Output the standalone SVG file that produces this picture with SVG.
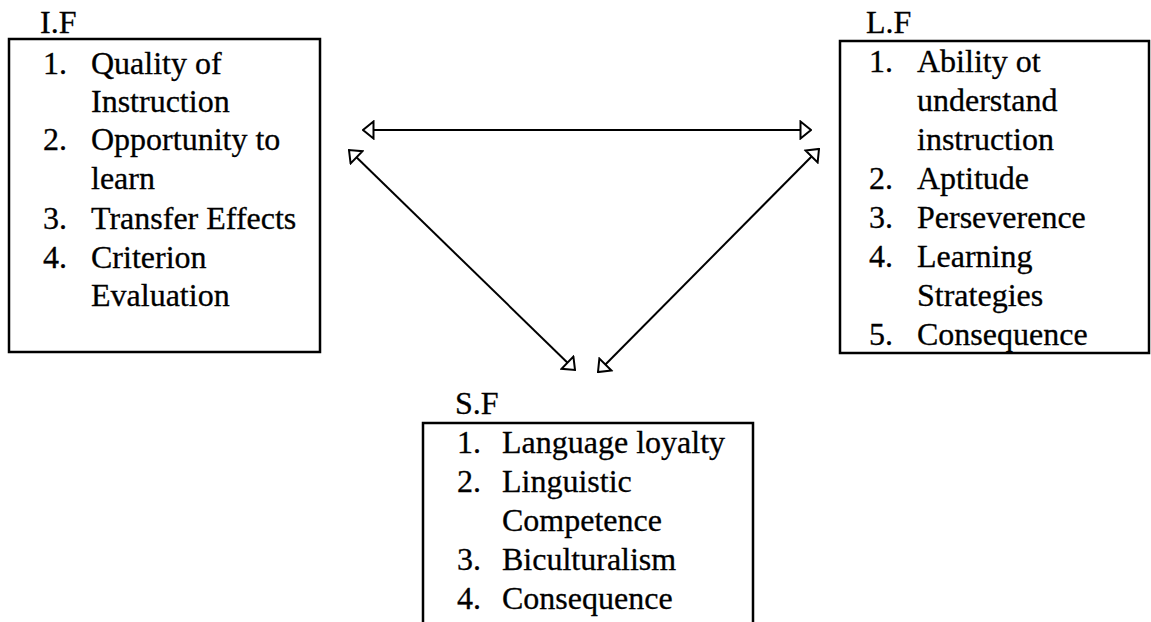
<svg xmlns="http://www.w3.org/2000/svg" width="1151" height="622" viewBox="0 0 1151 622">
<style>
text { font-family: "Liberation Serif", "Times New Roman", serif; font-size: 32px; fill: #000; stroke: #000; stroke-width: 0.3; }
.box { fill: none; stroke: #000; stroke-width: 2.5; }
.conn { stroke: #000; stroke-width: 2; fill: none; marker-start: url(#ah); marker-end: url(#ah); }
</style>
<defs>
<marker id="ah" viewBox="0 0 13 20" refX="12" refY="10" markerWidth="13" markerHeight="20" markerUnits="userSpaceOnUse" orient="auto-start-reverse">
<path d="M1.5,1.5 L12,10 L1.5,18.5 Z" fill="#fff" stroke="#000" stroke-width="2"/>
</marker>
</defs>
<rect width="1151" height="622" fill="#fff"/>
<g id="node-if">
<text x="40" y="33">I.F</text>
<rect class="box" x="9" y="39" width="311" height="313"/>
<text x="43" y="74">1.</text><text x="91" y="74">Quality of</text>
<text x="91" y="112">Instruction</text>
<text x="43" y="150">2.</text><text x="91" y="150">Opportunity to</text>
<text x="91" y="189">learn</text>
<text x="43" y="229">3.</text><text x="91" y="229">Transfer Effects</text>
<text x="43" y="268">4.</text><text x="91" y="268">Criterion</text>
<text x="91" y="306">Evaluation</text>
</g>
<g id="node-lf">
<text x="866" y="33">L.F</text>
<rect class="box" x="840" y="41" width="309" height="312"/>
<text x="869" y="72">1.</text><text x="917" y="72">Ability ot</text>
<text x="917" y="111">understand</text>
<text x="917" y="150">instruction</text>
<text x="869" y="189">2.</text><text x="917" y="189">Aptitude</text>
<text x="869" y="228">3.</text><text x="917" y="228">Perseverence</text>
<text x="869" y="267">4.</text><text x="917" y="267">Learning</text>
<text x="917" y="306">Strategies</text>
<text x="869" y="345">5.</text><text x="917" y="345">Consequence</text>
</g>
<g id="node-sf">
<text x="455" y="414">S.F</text>
<path class="box" d="M423,630 L423,423 L753,423 L753,630"/>
<text x="457" y="453">1.</text><text x="502" y="453">Language loyalty</text>
<text x="457" y="492">2.</text><text x="502" y="492">Linguistic</text>
<text x="502" y="531">Competence</text>
<text x="457" y="570">3.</text><text x="502" y="570">Biculturalism</text>
<text x="457" y="609">4.</text><text x="502" y="609">Consequence</text>
</g>
<g id="connectors">
<line class="conn" x1="363" y1="130" x2="811" y2="130"/>
<line class="conn" x1="349" y1="150" x2="575" y2="370"/>
<line class="conn" x1="819" y1="149" x2="598" y2="372"/>
</g>
</svg>
